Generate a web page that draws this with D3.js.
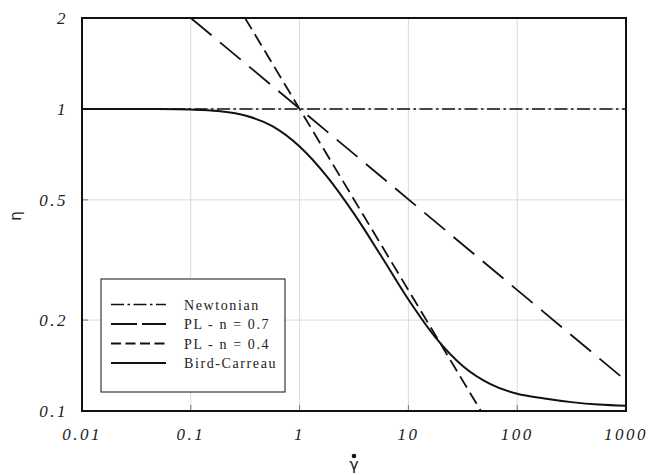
<!DOCTYPE html>
<html>
<head>
<meta charset="utf-8">
<script src="https://cdn.jsdelivr.net/npm/d3@7"></script>
<style>
  body { margin: 0; background: #fff; }
</style>
</head>
<body>
<div id="chart"></div>
<script>
// shear rate ticks and viscosity ticks
const xTicks = [0.01, 0.1, 1, 10, 100, 1000];
const xTickLabels = ["0.01", "0.1", "1", "10", "100", "1000"];
const yTicks = [0.1, 0.2, 0.5, 1, 2];
const yTickLabels = ["0.1", "0.2", "0.5", "1", "2"];

// Newtonian
const newtonianGamma = [0.01, 1000];
const newtonianEta = [1, 1];

// power law n = 0.7
const pl07Gamma = [0.1, 1000];
const pl07Eta = [2, 0.126];

// power law n = 0.4
const pl04Gamma = [0.315, 46.4];
const pl04Eta = [2, 0.1];

// Bird-Carreau
const bcGamma = [0.01, 0.05, 0.1, 0.178, 0.316, 0.562, 1, 1.78, 3.16, 5.62, 10, 17.8, 31.6, 56.2, 100, 178, 316, 562, 1000];
const bcEta = [1.0, 0.999, 0.995, 0.984, 0.951, 0.877, 0.751, 0.598, 0.45, 0.326, 0.234, 0.175, 0.141, 0.123, 0.114, 0.11, 0.107, 0.105, 0.104];

const legendNames = ["Newtonian", "PL - n = 0.7", "PL - n = 0.4", "Bird-Carreau"];

const width = 662;
const height = 475;
const plotLeft = 82, plotRight = 626, plotTop = 18, plotBottom = 411;

const svg = d3.select("#chart")
  .append("svg")
  .attr("width", width)
  .attr("height", height);

svg.append("rect").attr("width", width).attr("height", height).attr("fill", "#fff");

const x = d3.scaleLog().domain([0.01, 1000]).range([plotLeft, plotRight]);
const y = d3.scaleLog().domain([0.1, 2]).range([plotBottom, plotTop]);

// grid lines
svg.append("g")
  .selectAll("line")
  .data(xTicks.slice(1, -1))
  .enter()
  .append("line")
  .attr("x1", d => x(d)).attr("x2", d => x(d))
  .attr("y1", plotTop).attr("y2", plotBottom)
  .attr("stroke", "#dadada").attr("stroke-width", 1);

svg.append("g")
  .selectAll("line")
  .data(yTicks.slice(1, -1))
  .enter()
  .append("line")
  .attr("x1", plotLeft).attr("x2", plotRight)
  .attr("y1", d => y(d)).attr("y2", d => y(d))
  .attr("stroke", "#dadada").attr("stroke-width", 1);

// inner ticks
svg.append("g")
  .selectAll("line")
  .data(xTicks.slice(1, -1))
  .enter()
  .append("line")
  .attr("x1", d => x(d)).attr("x2", d => x(d))
  .attr("y1", plotBottom).attr("y2", plotBottom - 6)
  .attr("stroke", "#777").attr("stroke-width", 1);

svg.append("g")
  .selectAll("line")
  .data(yTicks.slice(1, -1))
  .enter()
  .append("line")
  .attr("x1", plotLeft).attr("x2", plotLeft + 6)
  .attr("y1", d => y(d)).attr("y2", d => y(d))
  .attr("stroke", "#777").attr("stroke-width", 1);

// series
const line = d3.line()
  .x(d => x(d[0]))
  .y(d => y(d[1]))
  .curve(d3.curveMonotoneX);

const series = [
  { gamma: newtonianGamma, eta: newtonianEta, dash: "13,3.5,2.5,3.5", legendDash: "13,3.5,2.5,3.5", width: 1.6 },
  { gamma: pl07Gamma, eta: pl07Eta, dash: "27,11", legendDash: "26,5", width: 1.8 },
  { gamma: pl04Gamma, eta: pl04Eta, dash: "13,6", legendDash: "10,4.5", width: 1.8 },
  { gamma: bcGamma, eta: bcEta, dash: null, legendDash: null, width: 2 }
];

svg.append("clipPath").attr("id", "plot-clip")
  .append("rect")
  .attr("x", plotLeft).attr("y", plotTop)
  .attr("width", plotRight - plotLeft).attr("height", plotBottom - plotTop);

series.forEach(s => {
  const pts = s.gamma.map((g, i) => [g, s.eta[i]]);
  svg.append("path")
    .datum(pts)
    .attr("d", line)
    .attr("fill", "none")
    .attr("stroke", "#111")
    .attr("stroke-width", s.width)
    .attr("stroke-dasharray", s.dash)
    .attr("clip-path", "url(#plot-clip)");
});

// frame
svg.append("rect")
  .attr("x", plotLeft).attr("y", plotTop)
  .attr("width", plotRight - plotLeft).attr("height", plotBottom - plotTop)
  .attr("fill", "none")
  .attr("stroke", "#111")
  .attr("stroke-width", 2);

// tick labels
svg.append("g")
  .selectAll("text")
  .data(xTicks)
  .enter()
  .append("text")
  .attr("x", d => x(d))
  .attr("y", 440)
  .attr("text-anchor", "middle")
  .attr("font-family", "Liberation Serif, serif")
  .attr("font-style", "italic")
  .attr("font-size", 17)
  .attr("letter-spacing", 2.5)
  .attr("fill", "#222")
  .text((d, i) => xTickLabels[i]);

svg.append("g")
  .selectAll("text")
  .data(yTicks)
  .enter()
  .append("text")
  .attr("x", 68)
  .attr("y", d => y(d) + 6)
  .attr("text-anchor", "end")
  .attr("font-family", "Liberation Serif, serif")
  .attr("font-style", "italic")
  .attr("font-size", 17)
  .attr("letter-spacing", 2.5)
  .attr("fill", "#222")
  .text((d, i) => yTickLabels[i]);

// axis titles
svg.append("text")
  .attr("transform", "translate(21,216) rotate(-90)")
  .attr("text-anchor", "middle")
  .attr("font-family", "DejaVu Sans, sans-serif")
  .attr("font-size", 15)
  .attr("fill", "#222")
  .text("η");

const gx = (plotLeft + plotRight) / 2;
svg.append("circle").attr("cx", gx).attr("cy", 456).attr("r", 2.3).attr("fill", "#111");
svg.append("text")
  .attr("x", gx)
  .attr("y", 470)
  .attr("text-anchor", "middle")
  .attr("font-family", "DejaVu Sans, sans-serif")
  .attr("font-size", 16)
  .attr("fill", "#222")
  .text("γ");

// legend
const lg = svg.append("g");
lg.append("rect")
  .attr("x", 101).attr("y", 279)
  .attr("width", 184).attr("height", 113)
  .attr("fill", "#fff")
  .attr("stroke", "#111")
  .attr("stroke-width", 1);

legendNames.forEach((name, i) => {
  const ly = 304.5 + i * 19.5;
  lg.append("line")
    .attr("x1", 111).attr("x2", 166)
    .attr("y1", ly).attr("y2", ly)
    .attr("stroke", "#111")
    .attr("stroke-width", series[i].width)
    .attr("stroke-dasharray", series[i].legendDash);
  lg.append("text")
    .attr("x", 184)
    .attr("y", ly + 5)
    .attr("font-family", "Liberation Serif, serif")
    .attr("font-size", 14)
    .attr("letter-spacing", 1.6)
    .attr("fill", "#222")
    .text(name);
});
</script>
</body>
</html>
